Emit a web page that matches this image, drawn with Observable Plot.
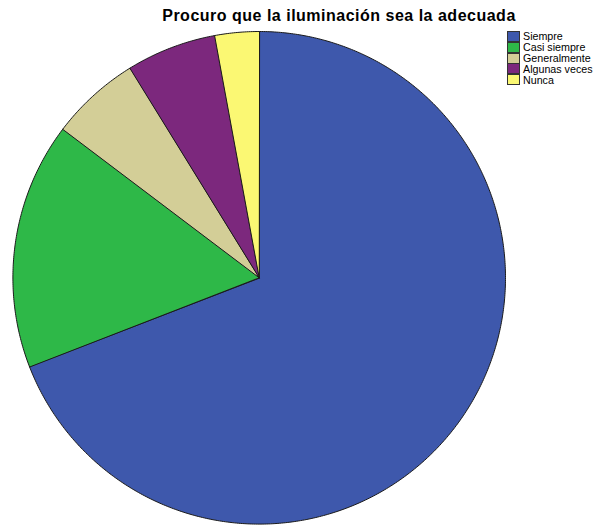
<!DOCTYPE html>
<html>
<head>
<meta charset="utf-8">
<script src="https://cdn.jsdelivr.net/npm/d3@7"></script>
<script src="https://cdn.jsdelivr.net/npm/@observablehq/plot@0.6"></script>
<style>
  html, body { margin: 0; padding: 0; background: #fff; }
  #wrap { position: relative; width: 601px; height: 525px; overflow: hidden; font-family: "Liberation Sans", Arial, sans-serif; }
  #title { position: absolute; left: 0; top: 6.5px; width: 678px; text-align: center; font-weight: bold; font-size: 16px; line-height: 18px; letter-spacing: 0.5px; color: #000; white-space: nowrap; }
  #legend { position: absolute; left: 507px; top: 31px; }
  .item { display: flex; align-items: center; height: 10.85px; font-size: 10.7px; color: #000; white-space: nowrap; }
  .sw { width: 11px; height: 9px; border: 1px solid #333; margin-right: 3px; box-sizing: content-box; }
</style>
</head>
<body>
<div id="wrap">
  <div id="chart"></div>
  <div id="title"></div>
  <div id="legend"></div>
</div>
<script>
const title = "Procuro que la iluminación sea la adecuada";
const categories = ["Siempre", "Casi siempre", "Generalmente", "Algunas veces", "Nunca"];
const percents = [69.1, 16.2, 5.9, 5.9, 2.9];
const colors = ["#3e58ac", "#2eb848", "#d3ce97", "#7c287d", "#fbf873"];

// Build slice outlines (unit circle, clockwise from 12 o'clock)
const total = d3.sum(percents);
const pts = [];
let acc = 0;
categories.forEach((cat, i) => {
  const a0 = acc / total * 2 * Math.PI;
  acc += percents[i];
  const a1 = acc / total * 2 * Math.PI;
  pts.push({cat, x: 0, y: 0});
  const n = Math.max(2, Math.ceil((a1 - a0) / (Math.PI / 360)));
  for (let k = 0; k <= n; k++) {
    const a = a0 + (a1 - a0) * k / n;
    pts.push({cat, x: Math.sin(a), y: Math.cos(a)});
  }
});

const cx = 258.7, cy = 277.3, r = 246.3;
const chart = Plot.plot({
  width: 601,
  height: 525,
  margin: 0,
  x: {domain: [-1, 1], range: [cx - r, cx + r], axis: null},
  y: {domain: [-1, 1], range: [cy + r, cy - r], axis: null},
  color: {domain: categories, range: colors},
  marks: [
    Plot.line(pts, {x: "x", y: "y", z: "cat", fill: "cat", stroke: "#1a1a1a", strokeWidth: 1, curve: "linear-closed", strokeLinejoin: "round"})
  ]
});
document.getElementById("chart").appendChild(chart);

document.getElementById("title").textContent = title;
const lg = document.getElementById("legend");
categories.forEach((c, i) => {
  const it = document.createElement("div");
  it.className = "item";
  const sw = document.createElement("span");
  sw.className = "sw";
  sw.style.background = colors[i];
  const t = document.createElement("span");
  t.textContent = c;
  it.appendChild(sw);
  it.appendChild(t);
  lg.appendChild(it);
});
</script>
</body>
</html>
